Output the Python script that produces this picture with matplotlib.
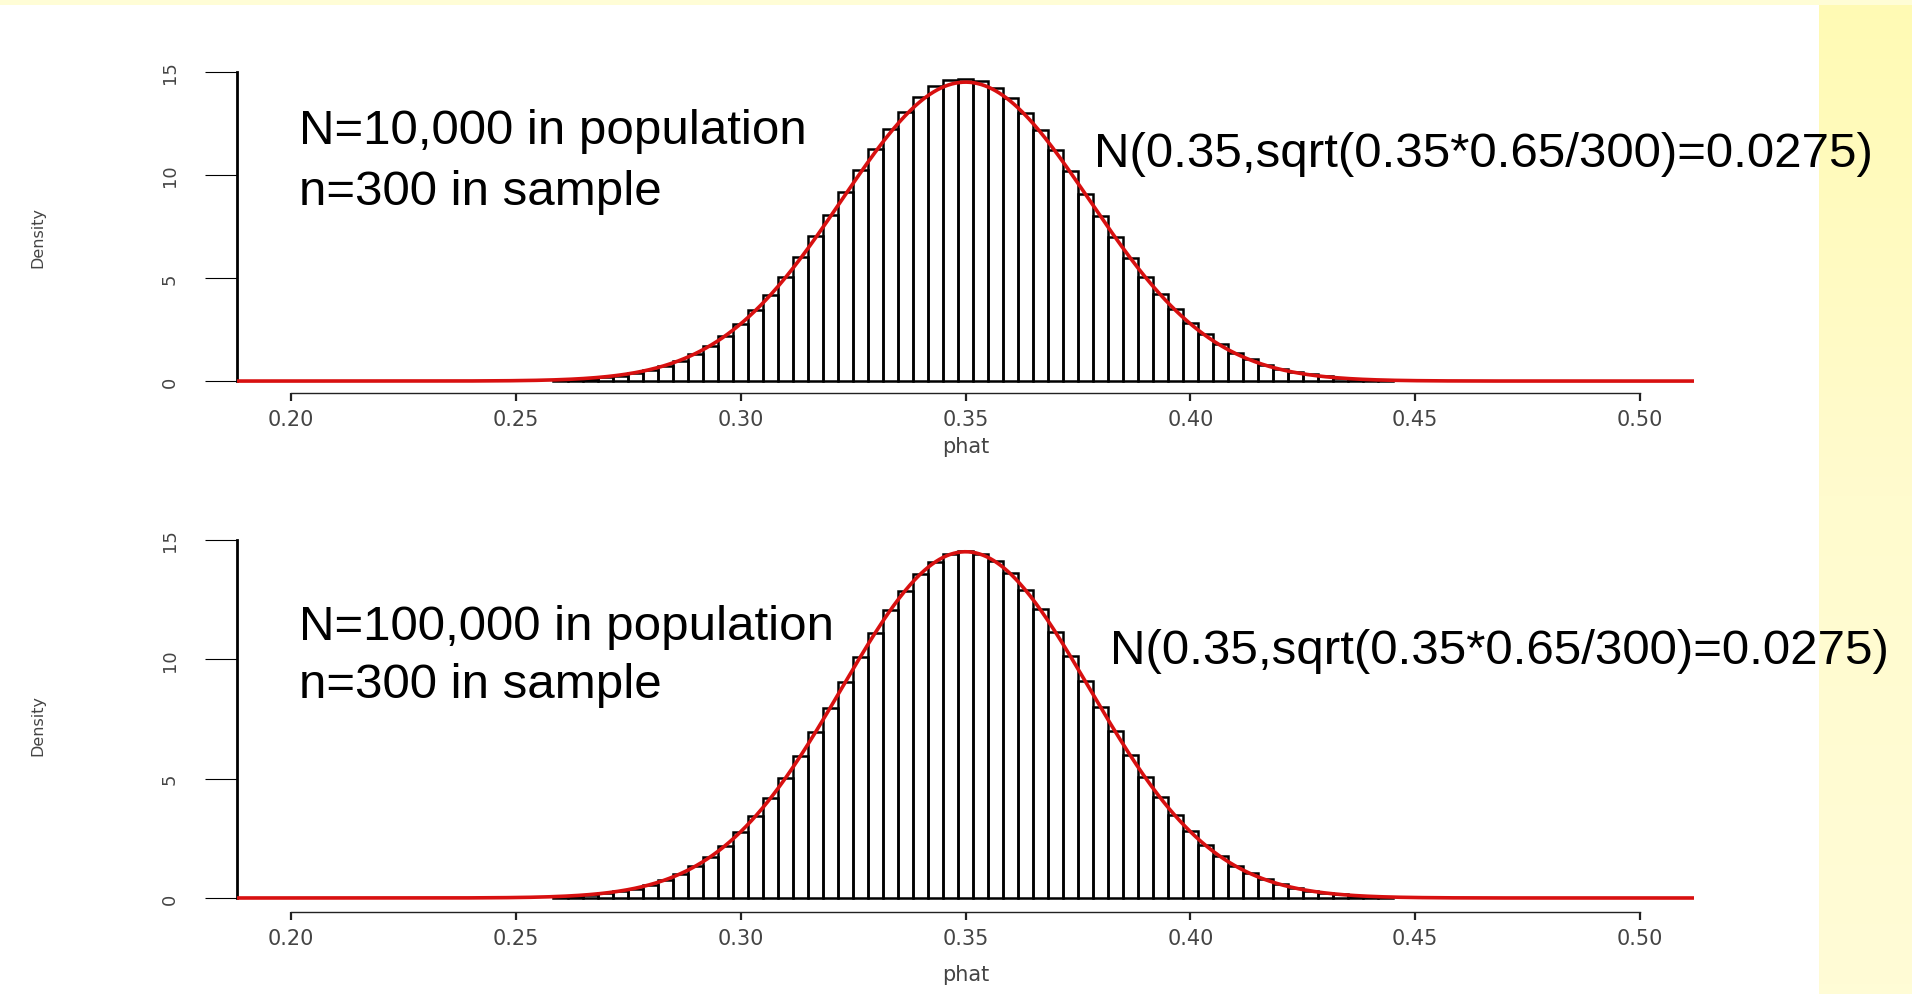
import numpy as np
import matplotlib
matplotlib.use("Agg")
import matplotlib.pyplot as plt
from matplotlib.colors import LinearSegmentedColormap

## sampling distribution of phat, two population sizes, n=300 in the sample
## bars sit on phat = k/300, k = 78..133
bin_k = list(range(78, 134))
bin_width = 1 / 300

dens_10k = [0.05, 0.08, 0.12, 0.18, 0.26, 0.37, 0.53, 0.73, 0.98, 1.30, 1.70, 2.18, 2.76, 3.44,
            4.20, 5.06, 6.00, 7.02, 8.08, 9.16, 10.24, 11.28, 12.24, 13.08, 13.78, 14.30, 14.60,
            14.68, 14.56, 14.24, 13.72, 13.02, 12.18, 11.22, 10.18, 9.10, 8.02, 6.98, 5.98, 5.06,
            4.22, 3.48, 2.82, 2.26, 1.78, 1.38, 1.06, 0.80, 0.60, 0.44, 0.32, 0.23, 0.16, 0.11,
            0.07, 0.05]
dens_100k = [0.06, 0.09, 0.13, 0.19, 0.28, 0.39, 0.55, 0.75, 1.00, 1.32, 1.72, 2.19, 2.76, 3.42,
             4.18, 5.02, 5.95, 6.94, 7.98, 9.04, 10.10, 11.12, 12.06, 12.88, 13.56, 14.08, 14.40,
             14.52, 14.42, 14.10, 13.60, 12.92, 12.10, 11.16, 10.14, 9.08, 8.02, 6.98, 5.98, 5.06,
             4.22, 3.46, 2.80, 2.24, 1.76, 1.36, 1.04, 0.78, 0.58, 0.43, 0.31, 0.22, 0.15, 0.10,
             0.07, 0.05]

# normal curve parameters as printed on the chart
MU = 0.35
SD = 0.0275

x_ticks = [0.20, 0.25, 0.30, 0.35, 0.40, 0.45, 0.50]
x_ticklabels = ["0.20", "0.25", "0.30", "0.35", "0.40", "0.45", "0.50"]
y_ticks = [0, 5, 10, 15]
y_ticklabels = ["0", "5", "10", "15"]

pop_labels = ["N=10,000 in population", "N=100,000 in population"]
sample_label = "n=300 in sample"
curve_label = "N(0.35,sqrt(0.35*0.65/300)=0.0275)"

XLIM = (0.188, 0.512)
YLIM = (-0.6, 15.6)

fig = plt.figure(figsize=(19.12, 9.95), dpi=100)
fig.patch.set_facecolor("white")

# slide background: yellow strip on the right, thin band on top
strip = fig.add_axes([0.9514, 0, 0.0486, 1], zorder=-5)
cmap = LinearSegmentedColormap.from_list("slide", ["#FFFAB4", "#FFFBCE", "#FFFCD6"])
strip.imshow(np.linspace(0, 1, 100).reshape(-1, 1), aspect="auto", cmap=cmap)
strip.axis("off")
band = fig.add_axes([0, 0.9935, 1, 0.0065], zorder=-5)
band.set_facecolor("#FFFDD6")
band.set_xticks([])
band.set_yticks([])
for s in band.spines.values():
    s.set_visible(False)


def draw_panel(rect, dens):
    ax = fig.add_axes(rect)
    ax.patch.set_alpha(0)
    centers = [k * bin_width for k in bin_k]
    ax.bar(centers, dens, width=bin_width, fill=False, edgecolor="black", linewidth=1.8, zorder=2)
    xs = np.linspace(XLIM[0], XLIM[1], 800)
    ys = np.exp(-0.5 * ((xs - MU) / SD) ** 2) / (SD * np.sqrt(2 * np.pi))
    ax.plot(xs, ys, color="#D81010", linewidth=2.6, zorder=3)
    ax.set_xlim(*XLIM)
    ax.set_ylim(*YLIM)
    for side in ["top", "right"]:
        ax.spines[side].set_visible(False)
    ax.spines["left"].set_bounds(0, 15)
    ax.spines["left"].set_linewidth(2.0)
    ax.spines["bottom"].set_bounds(0.20, 0.50)
    ax.spines["bottom"].set_linewidth(1.0)
    ax.spines["bottom"].set_color("#222222")
    ax.set_xticks(x_ticks)
    ax.set_xticklabels(x_ticklabels, fontsize=15, color="#444444", family="DejaVu Sans")
    ax.set_yticks(y_ticks)
    ax.set_yticklabels(y_ticklabels, fontsize=13, color="#444444", rotation=90, va="center",
                       family="DejaVu Sans")
    ax.tick_params(axis="x", direction="out", length=6, width=1.6, pad=5, color="#222222")
    ax.tick_params(axis="y", direction="out", length=23, width=0.8, pad=19)
    return ax


ax_top = draw_panel([0.1240, 0.6036, 0.7620, 0.3355], dens_10k)
ax_bot = draw_panel([0.1240, 0.0821, 0.7620, 0.3886], dens_100k)

txt = dict(fontsize=35.5, family="Liberation Sans", color="black", va="baseline", ha="left")
fig.text(0.1563, 0.855, pop_labels[0], **txt)
fig.text(0.1563, 0.794, sample_label, **txt)
fig.text(0.572, 0.832, curve_label, **txt)
fig.text(0.1563, 0.357, pop_labels[1], **txt)
fig.text(0.1563, 0.2985, sample_label, **txt)
fig.text(0.5804, 0.3327, curve_label, **txt)

lab = dict(color="#444444", family="DejaVu Sans")
fig.text(0.020, 0.761, "Density", rotation=90, fontsize=11.5, ha="center", va="center", **lab)
fig.text(0.020, 0.271, "Density", rotation=90, fontsize=11.5, ha="center", va="center", **lab)
fig.text(0.505, 0.551, "phat", fontsize=15, ha="center", va="center", **lab)
fig.text(0.505, 0.0196, "phat", fontsize=15, ha="center", va="center", **lab)

fig.savefig("out.png", dpi=100, facecolor=fig.get_facecolor())
